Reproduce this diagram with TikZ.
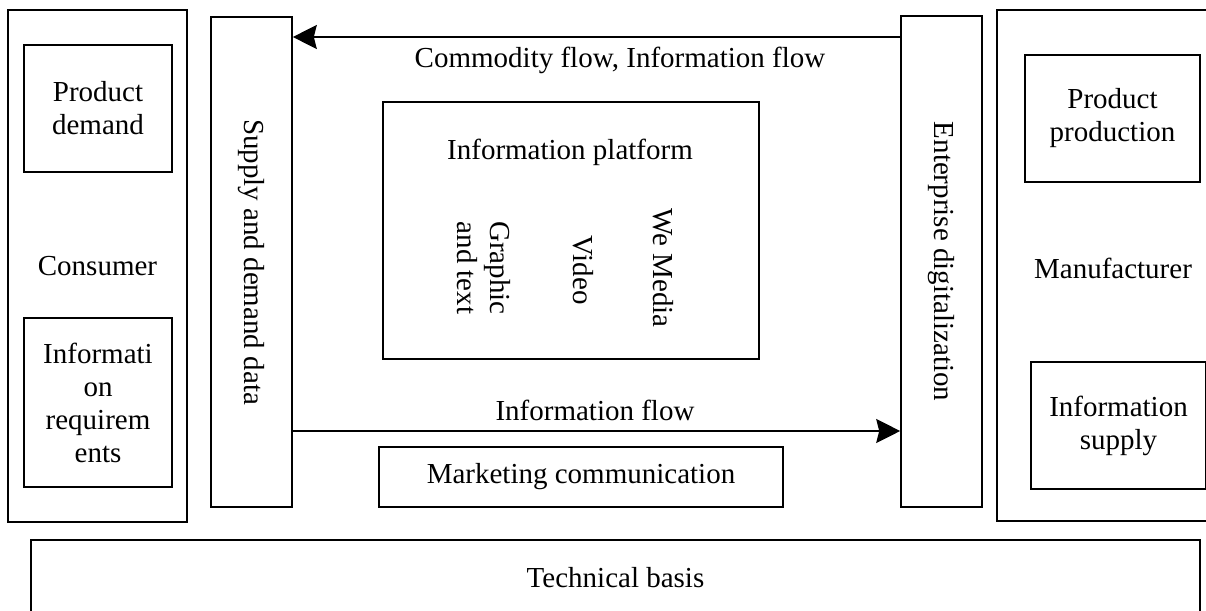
\documentclass[tikz,border=0pt]{standalone}
\usepackage{fontspec}
\usepackage{graphicx}
\setmainfont{Liberation Serif}
\usetikzlibrary{arrows.meta}

\begin{document}
\begin{tikzpicture}[x=1pt,y=-1pt,
  every node/.style={font=\fontsize{29}{33}\selectfont},
  box/.style={draw,line width=1.6pt,inner sep=0pt,align=center},
  lbl/.style={inner sep=0pt,align=center},
  flow/.style={line width=1.6pt,-{Stealth[length=24pt,width=24pt,inset=3pt]}}]

  \useasboundingbox (0,0) rectangle (1206,610);
  \clip (0,0) rectangle (1206,610);

  % consumer side
  \node[box,minimum width=179,minimum height=512] (consumer) at (97.5,266) {Consumer};
  \node[box,minimum width=148,minimum height=127] (demand) at (98,108.5) {Product\\demand};
  \node[box,minimum width=148,minimum height=169] (require) at (98,402.5)
    {Informati\\on\\requirem\\ents};
  \node[box,minimum width=81,minimum height=490] (supply) at (251.5,262)
    {\rotatebox{-90}{Supply and demand data}};

  % platform in the middle
  \node[box,minimum width=376,minimum height=257] (platform) at (571,230.5) {};
  \node[lbl] (platname) at (570,152) {Information platform};
  \node[lbl,rotate=-90] (graphic) at (484,268) {Graphic\\and text};
  \node[lbl,rotate=-90] (video) at (583,270) {Video};
  \node[lbl,rotate=-90] (wemedia) at (663,268) {We Media};
  \node[box,minimum width=404,minimum height=60] (market) at (581,477)
    {Marketing communication};

  % manufacturer side
  \node[box,minimum width=81,minimum height=491] (digital) at (941.5,261.5)
    {\rotatebox{-90}{Enterprise digitalization}};
  \node[box,minimum width=223,minimum height=511] (maker) at (1108.5,265.5) {};
  \node[lbl] (makername) at (1113,268) {Manufacturer};
  \node[box,minimum width=175,minimum height=127] (produce) at (1112.5,118.5)
    {Product\\production};
  \node[box,minimum width=175,minimum height=127] (offer) at (1118.5,425.5)
    {Information\\supply};

  \node[box,minimum width=1169,minimum height=76] (basis) at (615.5,578) {Technical basis};

  % flows
  \coordinate (topflow) at (600,37);
  \coordinate (botflow) at (600,431);
  \draw[flow] (topflow -| digital.west) -- (topflow -| supply.east);
  \draw[flow] (botflow -| supply.east) -- (botflow -| digital.west);
  \node[lbl] (toplabel) at (620,60) {Commodity flow, Information flow};
  \node[lbl] (botlabel) at (595,410) {Information flow};

\end{tikzpicture}
\end{document}
